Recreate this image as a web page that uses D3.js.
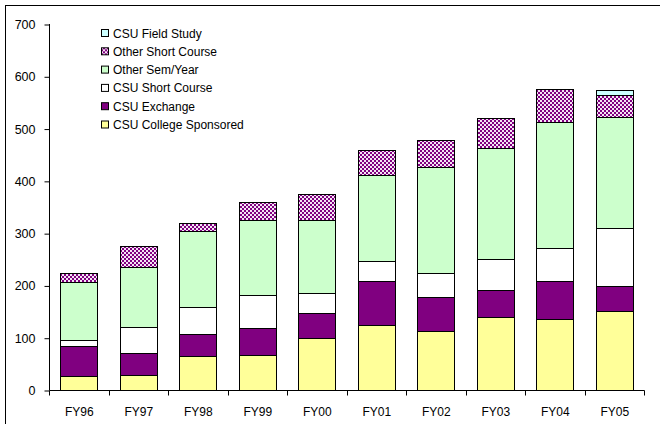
<!DOCTYPE html>
<html><head><meta charset="utf-8">
<script src="https://cdn.jsdelivr.net/npm/d3@7"></script>
<style>body{margin:0;background:#fff}svg{display:block}text{font-family:"Liberation Sans",Arial,sans-serif}</style>
</head><body><svg id="c" width="660" height="424"></svg>
<script>
const categories = ["FY96","FY97","FY98","FY99","FY00","FY01","FY02","FY03","FY04","FY05"];
const csuCollegeSponsored = [27, 29, 65, 66, 100, 124, 113, 140, 135, 151];
const csuExchange        = [58, 42, 42, 53, 47, 84, 65, 51, 73, 47];
const csuShortCourse     = [11, 50, 52, 62, 39, 39, 45, 59, 63, 112];
const otherSemYear       = [111, 114, 146, 145, 140, 164, 203, 213, 241, 213];
const otherShortCourse   = [16, 41, 15, 33, 49, 48, 52, 58, 63, 42];
const csuFieldStudy      = [0, 0, 0, 0, 0, 0, 0, 0, 0, 9];
const seriesNames = ["CSU College  Sponsored","CSU Exchange","CSU Short Course","Other Sem/Year","Other Short Course","CSU Field Study"];
const yTicks = [0,100,200,300,400,500,600,700];

const seriesData = [csuCollegeSponsored, csuExchange, csuShortCourse, otherSemYear, otherShortCourse, csuFieldStudy];
const fills = ["#FFFF99","#800080","#FFFFFF","#CCFFCC","url(#chk)","#CCFFFF"];

const svg = d3.select("#c");
const defs = svg.append("defs");
const pat = defs.append("pattern").attr("id","chk").attr("patternUnits","userSpaceOnUse").attr("width",4).attr("height",4);
pat.append("rect").attr("width",4).attr("height",4).attr("fill","#800080");
pat.append("rect").attr("x",0).attr("y",0).attr("width",2).attr("height",2).attr("fill","#F4E4F4");
pat.append("rect").attr("x",2).attr("y",2).attr("width",2).attr("height",2).attr("fill","#F4E4F4");

// outer frame
svg.append("rect").attr("x",5.5).attr("y",5.5).attr("width",700).attr("height",500)
  .attr("fill","none").attr("stroke","#000").attr("stroke-width",1);

const pLeft = 49, pRight = 644, pTop = 24, pBottom = 390;
const x = d3.scaleBand().domain(categories).range([pLeft,pRight]).paddingInner(0.37).paddingOuter(0.185);
const y = d3.scaleLinear().domain([0,700]).range([pBottom,pTop]);

const rows = categories.map((c,i)=>{ const o={cat:c}; seriesNames.forEach((s,k)=>o[s]=seriesData[k][i]); return o; });
const stacked = d3.stack().keys(seriesNames)(rows);

const g = svg.append("g");
stacked.forEach((layer,k)=>{
  g.selectAll(null).data(layer.filter(d=>d[1]-d[0]>0)).enter().append("rect")
    .attr("x",d=>Math.round(x(d.data.cat))+0.5)
    .attr("y",d=>Math.round(y(d[1]))+0.5)
    .attr("width",Math.round(x.bandwidth()))
    .attr("height",d=>Math.round(y(d[0]))-Math.round(y(d[1])))
    .attr("fill",fills[k]).attr("stroke","#000").attr("stroke-width",1);
});

// y axis
const ya = svg.append("g").attr("transform",`translate(${pLeft+0.5},0.5)`)
  .call(d3.axisLeft(y).tickValues(yTicks).tickSize(5).tickPadding(9));
ya.select(".domain").attr("d",`M0,${pTop-0.5}V${pBottom}`);
ya.selectAll("text").style("font-size","12.5px").attr("fill","#000");
ya.selectAll("line").attr("stroke","#000");

// x axis with ticks at band boundaries
const step = (pRight-pLeft)/categories.length;
const xa = svg.append("g").attr("transform",`translate(0.5,${pBottom+0.5})`);
xa.append("line").attr("x1",pLeft).attr("x2",pRight).attr("stroke","#000");
xa.selectAll(".t").data(d3.range(categories.length+1)).enter().append("line")
  .attr("x1",i=>Math.round(pLeft+i*step)).attr("x2",i=>Math.round(pLeft+i*step))
  .attr("y1",0).attr("y2",5).attr("stroke","#000");
xa.selectAll(".l").data(categories).enter().append("text")
  .attr("x",d=>x(d)+x.bandwidth()/2).attr("y",25).attr("text-anchor","middle")
  .style("font-size","12px").attr("fill","#000").text(d=>d);

// legend
const leg = svg.append("g").attr("transform","translate(101,29)");
const order = seriesNames.map((s,k)=>k).reverse();
order.forEach((k,i)=>{
  const r = leg.append("g").attr("transform",`translate(0,${i*18.3})`);
  r.append("rect").attr("x",0.5).attr("y",0.5).attr("width",7).attr("height",7)
    .attr("fill",fills[k]).attr("stroke","#000").attr("stroke-width",1);
  r.append("text").attr("x",12).attr("y",8.5).style("font-size","12px").attr("fill","#000").text(seriesNames[k]);
});
</script></body></html>
